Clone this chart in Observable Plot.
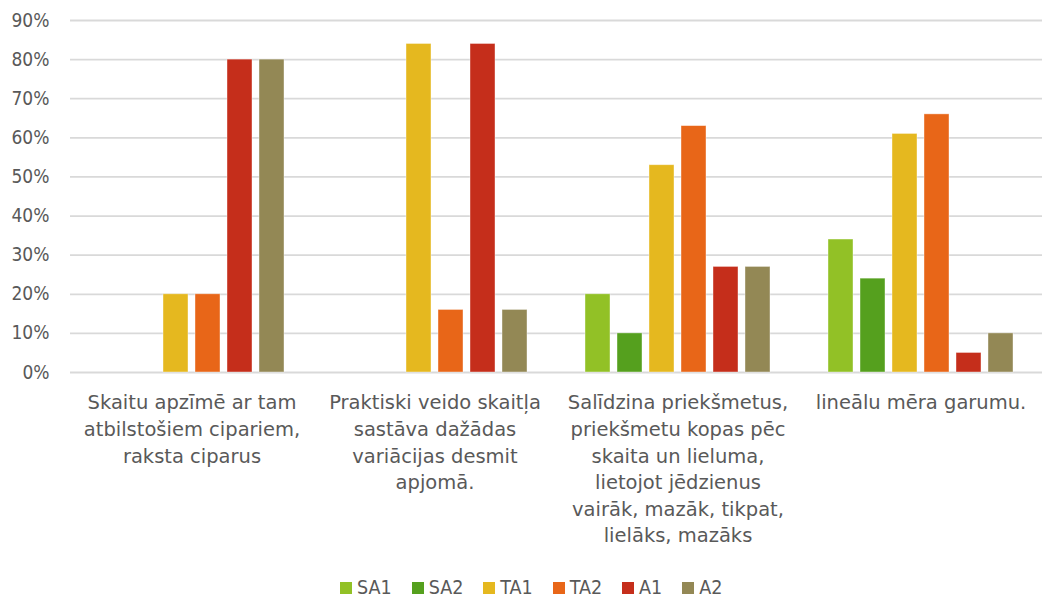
<!DOCTYPE html>
<html>
<head>
<meta charset="utf-8">
<script src="https://cdn.jsdelivr.net/npm/d3@7"></script>
<script src="https://cdn.jsdelivr.net/npm/@observablehq/plot@0.6"></script>
<style>
  html, body { margin: 0; padding: 0; background: #fff; overflow: hidden; }
  #chart { width: 1043px; }
  .legend { display: flex; justify-content: flex-start; align-items: flex-start; box-sizing: border-box; height: 31px; padding-top: 8px; font-family: "DejaVu Sans Condensed", "DejaVu Sans", sans-serif; font-size: 19.5px; line-height: 23px; color: #595959; padding-left: 330px; }
  .legend .item { display: flex; align-items: center; margin: 0 10px; height: 23px; }
  .legend .sw { width: 12px; height: 12px; margin-right: 5px; }
</style>
</head>
<body>
<div id="chart"></div>
<script>
const categories = [
  "Skaitu apzīmē ar tam atbilstošiem cipariem, raksta ciparus",
  "Praktiski veido skaitļa sastāva dažādas variācijas desmit apjomā.",
  "Salīdzina priekšmetus, priekšmetu kopas pēc skaita un lieluma, lietojot jēdzienus vairāk, mazāk, tikpat, lielāks, mazāks",
  "lineālu mēra garumu."
];
const categoryLabels = [
  "Skaitu apzīmē ar tam\natbilstošiem cipariem,\nraksta ciparus",
  "Praktiski veido skaitļa\nsastāva dažādas\nvariācijas desmit\napjomā.",
  "Salīdzina priekšmetus,\npriekšmetu kopas pēc\nskaita un lieluma,\nlietojot jēdzienus\nvairāk, mazāk, tikpat,\nlielāks, mazāks",
  "lineālu mēra garumu."
];
const series = ["SA1", "SA2", "TA1", "TA2", "A1", "A2"];
const colors = ["#92c126", "#55a01e", "#e5b81f", "#e86618", "#c52e1b", "#938855"];
const SA1 = [0, 0, 0.20, 0.34];
const SA2 = [0, 0, 0.10, 0.24];
const TA1 = [0.20, 0.84, 0.53, 0.61];
const TA2 = [0.20, 0.16, 0.63, 0.66];
const A1 = [0.80, 0.84, 0.27, 0.05];
const A2 = [0.80, 0.16, 0.27, 0.10];
const yTicks = [0, 0.1, 0.2, 0.3, 0.4, 0.5, 0.6, 0.7, 0.8, 0.9];

const seriesValues = {SA1, SA2, TA1, TA2, A1, A2};
const data = [];
categories.forEach((c, i) => {
  series.forEach(s => data.push({category: c, series: s, value: seriesValues[s][i]}));
});

const font = "'DejaVu Sans Condensed', 'DejaVu Sans', sans-serif";

const chart = Plot.plot({
  width: 1043,
  height: 568,
  marginTop: 20,
  marginBottom: 196,
  marginLeft: 69,
  marginRight: 0,
  style: { fontFamily: font, color: "#595959", background: "#fff" },
  fx: { domain: categories, padding: 0, label: null },
  x: { domain: series, paddingInner: 0.233, paddingOuter: 0.87, axis: null },
  y: { domain: [0, 0.9], axis: null },
  color: { domain: series, range: colors },
  marks: [
    Plot.ruleY(yTicks, { stroke: "#d9d9d9", strokeWidth: 1.8 }),
    Plot.axisY(yTicks, {
      tickFormat: d3.format(".0%"),
      tickSize: 0,
      tickPadding: 21,
      fontSize: 19,
      fill: "#595959",
      label: null
    }),
    Plot.barY(data, { fx: "category", x: "series", y: "value", fill: "series", stroke: "#ffffff", strokeOpacity: 0.5, strokeWidth: 0.8 }),
    Plot.axisFx({
      anchor: "bottom",
      tickFormat: d => categoryLabels[categories.indexOf(d)],
      tickSize: 0,
      tickPadding: 18,
      fontSize: 19.5,
      fontFamily: "'DejaVu Sans', sans-serif",
      lineHeight: 1.365,
      fill: "#595959",
      lineAnchor: "top",
      label: null
    })
  ]
});
document.getElementById("chart").appendChild(chart);

const legend = document.createElement("div");
legend.className = "legend";
series.forEach((s, i) => {
  const item = document.createElement("div");
  item.className = "item";
  const sw = document.createElement("span");
  sw.className = "sw";
  sw.style.background = colors[i];
  const t = document.createElement("span");
  t.textContent = s;
  item.appendChild(sw);
  item.appendChild(t);
  legend.appendChild(item);
});
document.getElementById("chart").appendChild(legend);
</script>
</body>
</html>
